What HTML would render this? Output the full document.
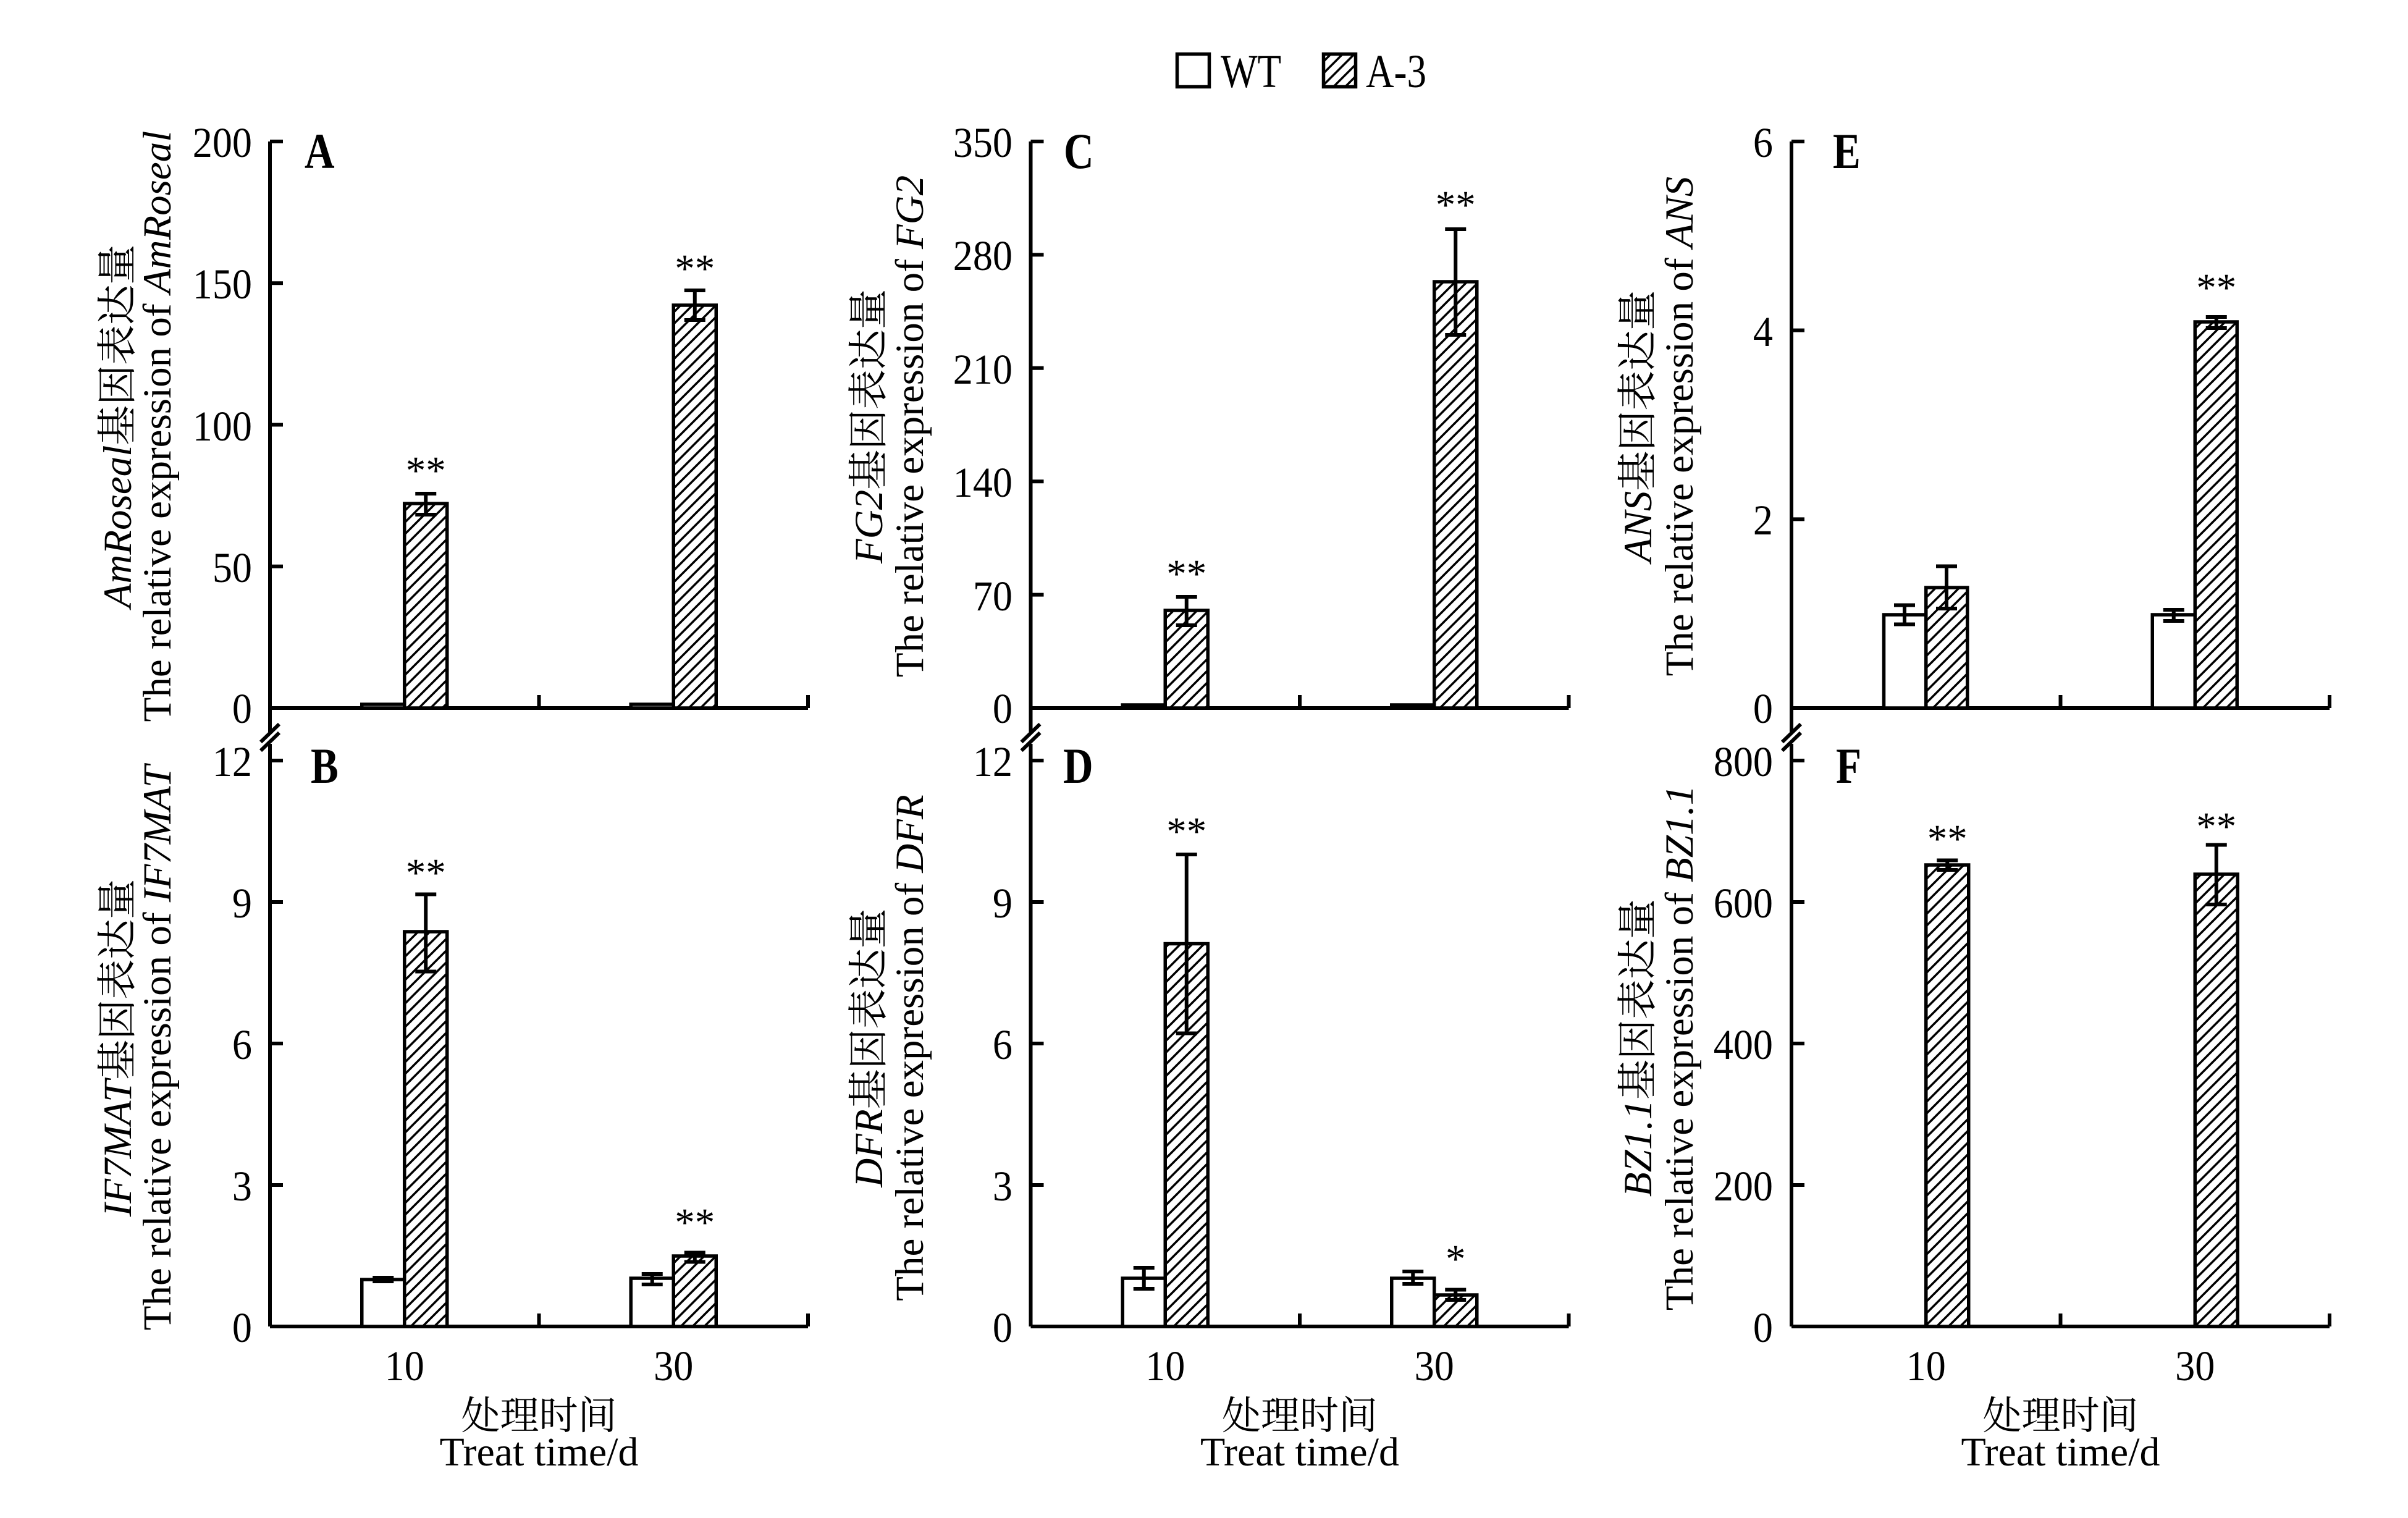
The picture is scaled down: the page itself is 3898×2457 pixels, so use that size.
<!DOCTYPE html>
<html><head><meta charset="utf-8"><style>html,body{margin:0;padding:0;background:#fff}svg{display:block}</style></head>
<body>
<svg width="3898" height="2457" viewBox="0 0 3898 2457" xmlns="http://www.w3.org/2000/svg" font-family="'Liberation Serif','Noto Serif CJK SC',serif" font-size="65">
<defs>
<pattern id="h" patternUnits="userSpaceOnUse" width="19" height="19">
<rect width="19" height="19" fill="#fff"/>
<path d="M-5,5 L5,-5 M0,19 L19,0 M14,24 L24,14" stroke="#000" stroke-width="3.5"/>
</pattern>
</defs>
<rect width="3898" height="2457" fill="#fff"/>

<!-- Legend -->
<rect x="1905.5" y="87.5" width="52" height="53" fill="#fff" stroke="#000" stroke-width="5.5"/>
<text transform="translate(1976,141) scale(0.83,1)" font-size="76">WT</text>
<rect x="2142.5" y="87.5" width="52" height="53" fill="url(#h)" stroke="#000" stroke-width="5.5"/>
<text transform="translate(2211,141) scale(0.83,1)" font-size="76">A-3</text>

<g stroke="#000" stroke-width="6" fill="none">
<!-- Axes A / B -->
<path d="M437,229 V1185 M437,1146 H1308 M437,229 h21 M437,458.25 h21 M437,687.5 h21 M437,916.75 h21 M872.5,1146 v-21 M1308,1146 v-21"/>
<path d="M437,1204 V2147 M437,2147 H1308 M437,1231 h21 M437,1460 h21 M437,1689 h21 M437,1918 h21 M872.5,2147 v-21 M1308,2147 v-21"/>
<path d="M422,1201 L452,1172 M422,1215 L452,1186"/>
<!-- Axes C / D -->
<path d="M1668.5,229 V1185 M1668.5,1146 H2539.5 M1668.5,229 h21 M1668.5,412.4 h21 M1668.5,595.8 h21 M1668.5,779.2 h21 M1668.5,962.6 h21 M2104,1146 v-21 M2539.5,1146 v-21"/>
<path d="M1668.5,1204 V2147 M1668.5,2147 H2539.5 M1668.5,1231 h21 M1668.5,1460 h21 M1668.5,1689 h21 M1668.5,1918 h21 M2104,2147 v-21 M2539.5,2147 v-21"/>
<path d="M1653.5,1201 L1683.5,1172 M1653.5,1215 L1683.5,1186"/>
<!-- Axes E / F -->
<path d="M2900,229 V1185 M2900,1146 H3771 M2900,229 h21 M2900,534.67 h21 M2900,840.33 h21 M3335.5,1146 v-21 M3771,1146 v-21"/>
<path d="M2900,1204 V2147 M2900,2147 H3771 M2900,1231 h21 M2900,1460 h21 M2900,1689 h21 M2900,1918 h21 M3335.5,2147 v-21 M3771,2147 v-21"/>
<path d="M2885,1201 L2915,1172 M2885,1215 L2915,1186"/>
</g>

<!-- Bars -->
<g stroke="#000" stroke-width="5.5">
<!-- A -->
<rect x="585.75" y="1140" width="69" height="6" fill="#fff"/>
<rect x="654.75" y="815" width="69" height="331" fill="url(#h)"/>
<rect x="1021.25" y="1140" width="69" height="6" fill="#fff"/>
<rect x="1090.25" y="494" width="69" height="652" fill="url(#h)"/>
<!-- C -->
<rect x="1817.25" y="1141" width="69" height="5" fill="#fff"/>
<rect x="1886.25" y="988" width="69" height="158" fill="url(#h)"/>
<rect x="2252.75" y="1141" width="69" height="5" fill="#fff"/>
<rect x="2321.75" y="456" width="69" height="690" fill="url(#h)"/>
<!-- E -->
<rect x="3049.5" y="995" width="68.25" height="151" fill="#fff"/>
<rect x="3117.75" y="951" width="67" height="195" fill="url(#h)"/>
<rect x="3484.25" y="995" width="69" height="151" fill="#fff"/>
<rect x="3553.25" y="521" width="68" height="625" fill="url(#h)"/>
<!-- B -->
<rect x="585.75" y="2071" width="69" height="76" fill="#fff"/>
<rect x="654.75" y="1508" width="69" height="639" fill="url(#h)"/>
<rect x="1021.25" y="2069" width="69" height="78" fill="#fff"/>
<rect x="1090.25" y="2033" width="69" height="114" fill="url(#h)"/>
<!-- D -->
<rect x="1817.25" y="2069" width="69" height="78" fill="#fff"/>
<rect x="1886.25" y="1527.5" width="69" height="619.5" fill="url(#h)"/>
<rect x="2252.75" y="2069" width="69" height="78" fill="#fff"/>
<rect x="2321.75" y="2096" width="69" height="51" fill="url(#h)"/>
<!-- F -->
<rect x="3117.75" y="1400" width="69" height="747" fill="url(#h)"/>
<rect x="3553.25" y="1415" width="69" height="732" fill="url(#h)"/>
</g>

<!-- Error bars -->
<g stroke="#000" stroke-width="6" fill="none">
<path d="M689.25,799 V833 M672.25,799 h34 M672.25,833 h34"/>
<path d="M1124.75,470 V518 M1107.75,470 h34 M1107.75,518 h34"/>
<path d="M1920.75,966 V1012 M1903.75,966 h34 M1903.75,1012 h34"/>
<path d="M2356.25,371 V542 M2339.25,371 h34 M2339.25,542 h34"/>
<path d="M3083,979.5 V1010.5 M3066,979.5 h34 M3066,1010.5 h34"/>
<path d="M3151,916.5 V985 M3134,916.5 h34 M3134,985 h34"/>
<path d="M3518.75,987 V1005 M3501.75,987 h34 M3501.75,1005 h34"/>
<path d="M3587.75,513 V531 M3570.75,513 h34 M3570.75,531 h34"/>
<path d="M620.25,2068 V2074 M603.25,2068 h34 M603.25,2074 h34"/>
<path d="M689.25,1447.5 V1572.5 M672.25,1447.5 h34 M672.25,1572.5 h34"/>
<path d="M1055.75,2062 V2079 M1038.75,2062 h34 M1038.75,2079 h34"/>
<path d="M1124.75,2027.5 V2042.5 M1107.75,2027.5 h34 M1107.75,2042.5 h34"/>
<path d="M1851.75,2052 V2086 M1834.75,2052 h34 M1834.75,2086 h34"/>
<path d="M1920.75,1383 V1672.5 M1903.75,1383 h34 M1903.75,1672.5 h34"/>
<path d="M2287.25,2058 V2078 M2270.25,2058 h34 M2270.25,2078 h34"/>
<path d="M2356.25,2087.5 V2104 M2339.25,2087.5 h34 M2339.25,2104 h34"/>
<path d="M3152.25,1392.5 V1408 M3135.25,1392.5 h34 M3135.25,1408 h34"/>
<path d="M3587.75,1367.5 V1464 M3570.75,1367.5 h34 M3570.75,1464 h34"/>
</g>

<!-- Significance -->
<g text-anchor="middle" font-size="65">
<text x="689.25" y="783">**</text>
<text x="1124.75" y="456">**</text>
<text x="1920.75" y="950">**</text>
<text x="2356.25" y="353">**</text>
<text x="3587.75" y="487">**</text>
<text x="689.25" y="1434">**</text>
<text x="1124.75" y="2000">**</text>
<text x="1920.75" y="1367">**</text>
<text x="2356.25" y="2059">*</text>
<text x="3152.25" y="1379">**</text>
<text x="3587.75" y="1359">**</text>
</g>

<!-- Y tick labels -->
<g text-anchor="end" font-size="69">
<text transform="translate(408,254) scale(0.93,1)">200</text>
<text transform="translate(408,483) scale(0.93,1)">150</text>
<text transform="translate(408,713) scale(0.93,1)">100</text>
<text transform="translate(408,942) scale(0.93,1)">50</text>
<text transform="translate(408,1170) scale(0.93,1)">0</text>
<text transform="translate(408,1256) scale(0.93,1)">12</text>
<text transform="translate(408,1485) scale(0.93,1)">9</text>
<text transform="translate(408,1714) scale(0.93,1)">6</text>
<text transform="translate(408,1943) scale(0.93,1)">3</text>
<text transform="translate(408,2172) scale(0.93,1)">0</text>

<text transform="translate(1639,254) scale(0.93,1)">350</text>
<text transform="translate(1639,437) scale(0.93,1)">280</text>
<text transform="translate(1639,621) scale(0.93,1)">210</text>
<text transform="translate(1639,804) scale(0.93,1)">140</text>
<text transform="translate(1639,988) scale(0.93,1)">70</text>
<text transform="translate(1639,1170) scale(0.93,1)">0</text>
<text transform="translate(1639,1256) scale(0.93,1)">12</text>
<text transform="translate(1639,1485) scale(0.93,1)">9</text>
<text transform="translate(1639,1714) scale(0.93,1)">6</text>
<text transform="translate(1639,1943) scale(0.93,1)">3</text>
<text transform="translate(1639,2172) scale(0.93,1)">0</text>

<text transform="translate(2870,254) scale(0.93,1)">6</text>
<text transform="translate(2870,560) scale(0.93,1)">4</text>
<text transform="translate(2870,865) scale(0.93,1)">2</text>
<text transform="translate(2870,1170) scale(0.93,1)">0</text>
<text transform="translate(2870,1256) scale(0.93,1)">800</text>
<text transform="translate(2870,1485) scale(0.93,1)">600</text>
<text transform="translate(2870,1714) scale(0.93,1)">400</text>
<text transform="translate(2870,1943) scale(0.93,1)">200</text>
<text transform="translate(2870,2172) scale(0.93,1)">0</text>
</g>

<!-- Panel letters -->
<g font-weight="bold" font-size="82">
<text transform="translate(493,272) scale(0.82,1)">A</text>
<text transform="translate(1722,272) scale(0.82,1)">C</text>
<text transform="translate(2967,272) scale(0.82,1)">E</text>
<text transform="translate(503,1267) scale(0.82,1)">B</text>
<text transform="translate(1721,1267) scale(0.82,1)">D</text>
<text transform="translate(2972,1267) scale(0.82,1)">F</text>
</g>

<!-- X tick labels & titles -->
<g text-anchor="middle" font-size="69">
<text transform="translate(654.75,2234) scale(0.93,1)">10</text>
<text transform="translate(1090.25,2234) scale(0.93,1)">30</text>
<text transform="translate(1886.25,2234) scale(0.93,1)">10</text>
<text transform="translate(2321.75,2234) scale(0.93,1)">30</text>
<text transform="translate(3117.75,2234) scale(0.93,1)">10</text>
<text transform="translate(3553.25,2234) scale(0.93,1)">30</text>
</g>
<g text-anchor="middle" font-size="66">
<text x="872.5" y="2313" font-size="63">处理时间</text>
<text x="2104" y="2313" font-size="63">处理时间</text>
<text x="3335.5" y="2313" font-size="63">处理时间</text>
<text x="872.5" y="2372">Treat time/d</text>
<text x="2104" y="2372">Treat time/d</text>
<text x="3335.5" y="2372">Treat time/d</text>
</g>

<!-- Y axis titles -->
<g text-anchor="middle" font-size="65">
<text transform="translate(212,690) rotate(-90)"><tspan font-style="italic">AmRoseal</tspan>基因表达量</text>
<text transform="translate(276,690) rotate(-90)">The relative expression of <tspan font-style="italic">AmRoseal</tspan></text>
<text transform="translate(212,1696) rotate(-90)"><tspan font-style="italic">IF7MAT</tspan>基因表达量</text>
<text transform="translate(276,1696) rotate(-90)">The relative expression of <tspan font-style="italic">IF7MAT</tspan></text>
<text transform="translate(1428,690) rotate(-90)"><tspan font-style="italic">FG2</tspan>基因表达量</text>
<text transform="translate(1494,690) rotate(-90)">The relative expression of <tspan font-style="italic">FG2</tspan></text>
<text transform="translate(1428,1696) rotate(-90)"><tspan font-style="italic">DFR</tspan>基因表达量</text>
<text transform="translate(1494,1696) rotate(-90)">The relative expression of <tspan font-style="italic">DFR</tspan></text>
<text transform="translate(2673,690) rotate(-90)"><tspan font-style="italic">ANS</tspan>基因表达量</text>
<text transform="translate(2740,690) rotate(-90)">The relative expression of <tspan font-style="italic">ANS</tspan></text>
<text transform="translate(2673,1696) rotate(-90)"><tspan font-style="italic">BZ1.1</tspan>基因表达量</text>
<text transform="translate(2740,1696) rotate(-90)">The relative expression of <tspan font-style="italic">BZ1.1</tspan></text>
</g>
</svg>
</body></html>
